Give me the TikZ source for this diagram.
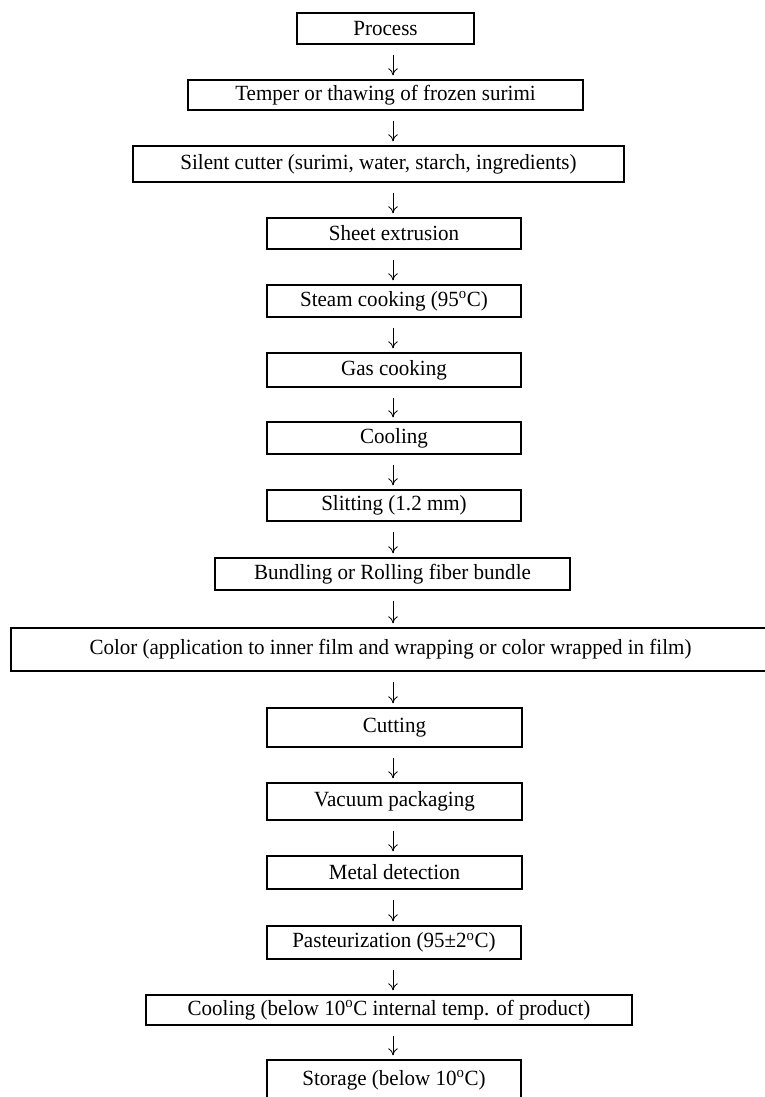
\documentclass[tikz,border=0pt]{standalone}
\usepackage{fontspec}
\setmainfont[FakeStretch=0.97]{Liberation Serif}
\usetikzlibrary{arrows.meta}

\begin{document}
\begin{tikzpicture}[x=0.03cm, y=-0.03cm,
    box/.style={draw, line width=1.1pt, inner sep=0pt, font=\fontsize{18.5}{21}\selectfont},
    flow/.style={arrows={-To[length=6pt, width=8pt]}, line width=0.7pt,
      shorten <=0.3cm, shorten >=0.12cm}]
  % fix the page to the picture size
  \useasboundingbox (0, 0) rectangle (765, 1097);
  \coordinate (spine) at (393, 0);
  % Draw process steps
  \node [box, minimum width=5.31cm, minimum height=0.93cm] (proc) at (385.5, 28.5) {Process};
  \node [box, minimum width=11.85cm, minimum height=0.90cm] (temper) at (385.5, 95) {Temper or thawing of frozen surimi};
  \node [box, minimum width=14.73cm, minimum height=1.08cm] (cutter) at (378.5, 164) {Silent cutter (surimi, water, starch, ingredients)};
  \node [box, minimum width=7.62cm, minimum height=0.93cm] (sheet) at (394, 233.5) {Sheet extrusion};
  \node [box, minimum width=7.62cm, minimum height=0.96cm] (steam) at (394, 301) {Steam cooking (95\textsuperscript{o}C)};
  \node [box, minimum width=7.62cm, minimum height=1.02cm] (gas) at (394, 370) {Gas cooking};
  \node [box, minimum width=7.62cm, minimum height=0.96cm] (cool) at (394, 438) {Cooling};
  \node [box, minimum width=7.62cm, minimum height=0.93cm] (slit) at (394, 505.5) {Slitting (1.2 mm)};
  \node [box, minimum width=10.65cm, minimum height=0.96cm] (bundle) at (392.5, 574) {Bundling or Rolling fiber bundle};
  \node [box, minimum width=22.77cm, minimum height=1.29cm] (color) at (390.5, 649.5) {Color (application to inner film and wrapping or color wrapped in film)};
  \node [box, minimum width=7.65cm, minimum height=1.17cm] (cutting) at (394.5, 727.5) {Cutting};
  \node [box, minimum width=7.65cm, minimum height=1.11cm] (vacuum) at (394.5, 801.5) {Vacuum packaging};
  \node [box, minimum width=7.65cm, minimum height=0.99cm] (metal) at (394.5, 872.5) {Metal detection};
  \node [box, minimum width=7.62cm, minimum height=0.99cm] (pasteur) at (394, 942.5) {Pasteurization (95±2\textsuperscript{o}C)};
  \node [box, minimum width=14.58cm, minimum height=0.90cm] (chill) at (389, 1010) {Cooling (below 10\textsuperscript{o}C internal temp. of product)};
  \node [box, minimum width=7.62cm, minimum height=1.20cm] (store) at (394, 1080) {Storage (below 10\textsuperscript{o}C)};
  % Draw arrows between steps
  \draw [flow] (proc.south -| spine) -- (temper.north -| spine);
  \draw [flow] (temper.south -| spine) -- (cutter.north -| spine);
  \draw [flow] (cutter.south -| spine) -- (sheet.north -| spine);
  \draw [flow] (sheet.south -| spine) -- (steam.north -| spine);
  \draw [flow] (steam.south -| spine) -- (gas.north -| spine);
  \draw [flow] (gas.south -| spine) -- (cool.north -| spine);
  \draw [flow] (cool.south -| spine) -- (slit.north -| spine);
  \draw [flow] (slit.south -| spine) -- (bundle.north -| spine);
  \draw [flow] (bundle.south -| spine) -- (color.north -| spine);
  \draw [flow] (color.south -| spine) -- (cutting.north -| spine);
  \draw [flow] (cutting.south -| spine) -- (vacuum.north -| spine);
  \draw [flow] (vacuum.south -| spine) -- (metal.north -| spine);
  \draw [flow] (metal.south -| spine) -- (pasteur.north -| spine);
  \draw [flow] (pasteur.south -| spine) -- (chill.north -| spine);
  \draw [flow] (chill.south -| spine) -- (store.north -| spine);
\end{tikzpicture}
\end{document}
